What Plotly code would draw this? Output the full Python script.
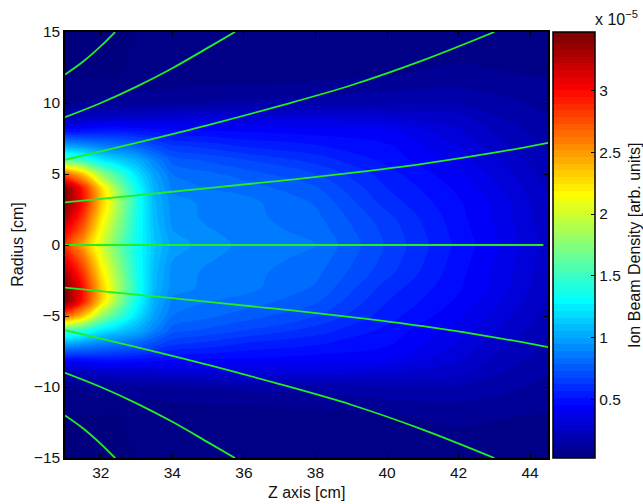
import plotly.graph_objects as go

# Axial positions (cm) and upper-half radii (cm) of the density table
z_cm = [31, 31.5, 32, 32.5, 33, 33.5, 34, 35, 36, 38, 40, 42, 43, 44.5]
r_cm = [0, 1, 2, 3, 4, 5, 6, 7, 8, 9, 10, 12, 15]

# Density in units of 1e-5, one row per radius
d_r0 = [2.85, 2.48, 2.05, 1.65, 1.35, 1.12, 0.98, 0.92, 0.88, 0.84, 0.67, 0.50, 0.42, 0.28]
d_r1 = [3.05, 2.68, 2.14, 1.72, 1.36, 1.10, 0.95, 0.90, 0.87, 0.82, 0.66, 0.49, 0.41, 0.27]
d_r2 = [3.28, 2.85, 2.26, 1.80, 1.38, 1.08, 0.93, 0.88, 0.86, 0.80, 0.64, 0.48, 0.40, 0.26]
d_r3 = [3.42, 2.97, 2.36, 1.85, 1.40, 1.07, 0.92, 0.88, 0.86, 0.78, 0.60, 0.47, 0.40, 0.25]
d_r4 = [3.42, 2.92, 2.30, 1.76, 1.34, 1.04, 0.88, 0.84, 0.82, 0.74, 0.57, 0.45, 0.37, 0.24]
d_r5 = [2.70, 2.35, 1.82, 1.50, 1.22, 0.99, 0.84, 0.80, 0.76, 0.68, 0.54, 0.42, 0.34, 0.22]
d_r6 = [1.55, 1.45, 1.25, 1.14, 1.04, 0.89, 0.76, 0.72, 0.68, 0.60, 0.50, 0.38, 0.31, 0.20]
d_r7 = [1.00, 0.94, 0.88, 0.83, 0.78, 0.70, 0.63, 0.60, 0.56, 0.52, 0.47, 0.35, 0.27, 0.18]
d_r8 = [0.50, 0.52, 0.54, 0.54, 0.52, 0.50, 0.48, 0.47, 0.46, 0.44, 0.42, 0.31, 0.24, 0.16]
d_r9 = [0.20, 0.23, 0.26, 0.27, 0.27, 0.28, 0.30, 0.31, 0.32, 0.33, 0.30, 0.27, 0.20, 0.14]
d_r10 = [0.08, 0.09, 0.10, 0.11, 0.12, 0.12, 0.13, 0.14, 0.15, 0.16, 0.18, 0.18, 0.16, 0.12]
d_r12 = [0.03, 0.03, 0.03, 0.03, 0.04, 0.04, 0.04, 0.05, 0.05, 0.06, 0.08, 0.10, 0.09, 0.08]
d_r15 = [0.03, 0.03, 0.03, 0.03, 0.03, 0.03, 0.03, 0.03, 0.03, 0.03, 0.03, 0.04, 0.04, 0.04]

# Beam trajectories (upper half; the lower half mirrors them)
traj_z0 = [31, 44.37]
traj_r0 = [0, 0]
traj_z3 = [31, 33, 35, 37, 39, 41, 43, 44.5]
traj_r3 = [3, 3.5, 4.0, 4.52, 5.08, 5.72, 6.5, 7.2]
traj_z6 = [31, 32, 33, 35, 37, 39, 41, 43]
traj_r6 = [6, 6.6, 7.2, 8.45, 9.8, 11.25, 13, 15]
traj_z9 = [31, 32, 33, 34, 35, 35.75]
traj_r9 = [9, 10, 11.15, 12.45, 13.9, 15]
traj_z12 = [31, 31.5, 32, 32.4]
traj_r12 = [12, 12.9, 14, 15]

cb_ticks = [0.5, 1, 1.5, 2, 2.5, 3]
cb_labels = ["0.5", "1", "1.5", "2", "2.5", "3"]
z_ticks = [32, 34, 36, 38, 40, 42, 44]
r_ticks = [-15, -10, -5, 0, 5, 10, 15]

rows = [d_r0, d_r1, d_r2, d_r3, d_r4, d_r5, d_r6, d_r7, d_r8, d_r9, d_r10, d_r12, d_r15]
radii = [-r for r in r_cm[:0:-1]] + r_cm
density = rows[:0:-1] + rows

FONT = "Liberation Sans"
TICK = dict(family=FONT, size=15.5, color="#111")
TXT = dict(family=FONT, size=16, color="#111")
jet = [[0, "#00007f"], [0.11, "#0000f0"], [0.125, "#0000ff"], [0.375, "#00ffff"],
       [0.625, "#ffff00"], [0.875, "#ff0000"], [1, "#7f0000"]]
GREEN = dict(color="#22ee22", width=1.8, shape="spline", smoothing=1)

fig = go.Figure()
fig.add_trace(go.Contour(
    x=z_cm, y=radii, z=density, colorscale=jet, zmin=0.03, zmax=3.47,
    autocontour=False, contours=dict(start=0.03, end=3.47, size=0.054, coloring="fill"),
    line=dict(width=0),
    colorbar=dict(
        x=1.0104, xanchor="left", xpad=0, y=0.5, yanchor="middle", ypad=0, len=1,
        thickness=42, outlinewidth=1.5, outlinecolor="black",
        tickvals=cb_ticks, ticktext=cb_labels, ticks="inside", ticklen=4,
        tickcolor="black", tickfont=TICK,
    ),
    hoverinfo="skip",
))
for zs, rs in [(traj_z0, traj_r0), (traj_z3, traj_r3), (traj_z6, traj_r6),
               (traj_z9, traj_r9), (traj_z12, traj_r12)]:
    fig.add_trace(go.Scatter(x=zs, y=rs, mode="lines", line=GREEN, showlegend=False))
    if rs[0] != 0:
        fig.add_trace(go.Scatter(x=zs, y=[-r for r in rs], mode="lines", line=GREEN, showlegend=False))

axis = dict(showgrid=False, zeroline=False, ticks="inside", ticklen=4, tickcolor="black",
            linecolor="black", linewidth=1.5, mirror="ticks", tickfont=TICK)
fig.update_xaxes(range=[31, 44.5], tickvals=z_ticks, **axis)
fig.update_yaxes(range=[-15, 15], tickvals=r_ticks, **axis)
fig.update_layout(
    width=643, height=504, margin=dict(l=65, r=95, t=32, b=46),
    paper_bgcolor="white", plot_bgcolor="white", showlegend=False,
    annotations=[
        dict(text="Z axis [cm]", xref="paper", yref="paper", x=0.5, y=-0.082,
             xanchor="center", yanchor="middle", showarrow=False, font=TXT),
        dict(text="Radius [cm]", textangle=-90, xref="paper", yref="paper", x=-0.1,
             y=0.5, xanchor="center", yanchor="middle", showarrow=False, font=TXT),
        dict(text="Ion Beam Density [arb. units]", textangle=-90, xref="paper", yref="paper",
             x=1.178, y=0.5, xanchor="center", yanchor="middle", showarrow=False, font=TXT),
        dict(text="x 10<sup>−5</sup>", xref="paper", yref="paper", x=1.093, y=1.0,
             xanchor="left", yanchor="bottom", yshift=2, showarrow=False, font=TXT),
    ],
)
fig.write_html("out.html", config=dict(displayModeBar=False),
               post_script="document.body.style.margin='0';document.documentElement.style.overflow='hidden';")
